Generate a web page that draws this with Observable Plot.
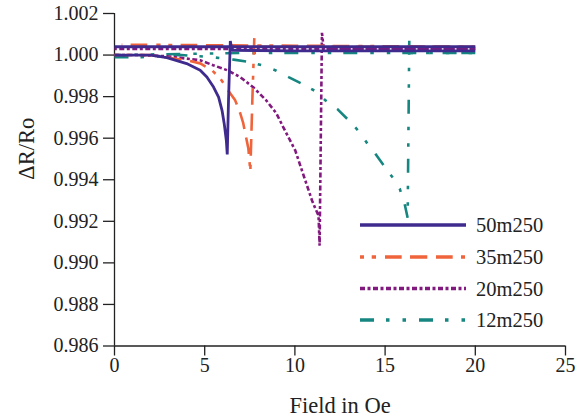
<!DOCTYPE html>
<html><head><meta charset="utf-8">
<script src="https://cdn.jsdelivr.net/npm/d3@7"></script>
<script src="https://cdn.jsdelivr.net/npm/@observablehq/plot@0.6"></script>
<style>
body{margin:0;background:#fff;}
#wrap{position:relative;width:579px;height:420px;overflow:hidden;}
#wrap svg{display:block;}
#legend{position:absolute;left:0;top:0;}
</style></head><body><div id="wrap"></div>
<script>
// ---- data ----
const seriesNames = ["50m250", "35m250", "20m250", "12m250"];
const seriesColors = ["#3f2b8e", "#f0643c", "#82197f", "#168680"];
const xTicks = [0, 5, 10, 15, 20, 25];
const yTicks = [0.986, 0.988, 0.990, 0.992, 0.994, 0.996, 0.998, 1.000, 1.002];
const xTitle = "Field in Oe";
const yTitle = "\u0394R/Ro";

// 50m250 : sweep up (with dip) and sweep back
const up50X = [0, 2.0, 2.9, 4.0, 4.75, 5.12, 5.49, 5.77, 5.96, 6.08, 6.20, 6.25, 6.32, 6.42, 6.51, 10, 15, 20];
const up50Y = [1.0000, 1.0000, 0.99988, 0.99959, 0.99927, 0.99894, 0.99846, 0.99798, 0.99734, 0.99671, 0.99589, 0.99522, 0.99782, 1.00068, 1.00023, 1.0002, 1.0002, 1.0002];
const back50X = [20, 10, 0];
const back50Y = [1.0004, 1.0004, 1.0004];

// 35m250
const up35X = [0, 2.0, 2.9, 4.03, 4.75, 5.4, 5.86, 6.3, 6.69, 6.97, 7.14, 7.25, 7.42, 7.53, 7.64, 7.75, 7.86, 14, 20];
const up35Y = [1.0000, 1.0000, 0.99988, 0.99975, 0.9996, 0.99927, 0.99888, 0.9983, 0.99782, 0.9972, 0.99671, 0.99623, 0.99551, 0.9944, 0.9978, 1.00083, 1.0004, 1.0004, 1.0004];
const back35X = [20, 10, 0.4];
const back35Y = [1.0004, 1.00045, 1.0005];

// 20m250
const up20X = [0, 1.5, 2.92, 4.75, 5.47, 6.25, 6.97, 7.69, 8.41, 8.97, 9.36, 10.02, 10.52, 10.95, 11.13, 11.31, 11.37, 11.50, 11.6, 15, 20];
const up20Y = [1.0000, 1.0000, 0.99994, 0.99975, 0.99951, 0.99927, 0.99894, 0.99845, 0.99782, 0.9972, 0.99652, 0.99541, 0.99411, 0.993, 0.99262, 0.99228, 0.99083, 1.00107, 1.0003, 1.0003, 1.0003];
const back20X = [20, 10, 0];
const back20Y = [1.0003, 1.0003, 1.0003];

// 12m250
const up12X = [0, 1.5, 3.7, 5.4, 6.6, 7.49, 8.36, 8.91, 9.65, 10.45, 11.23, 11.69, 12.37, 12.98, 13.59, 13.96, 14.46, 14.96, 15.47, 15.81, 16.07, 16.25, 16.34, 16.42, 20];
const up12Y = [0.9999, 0.9999, 1.0000, 0.9999, 0.99978, 0.99967, 0.99946, 0.99927, 0.99894, 0.99859, 0.99822, 0.99782, 0.99739, 0.99686, 0.99629, 0.99581, 0.99525, 0.99464, 0.99405, 0.99357, 0.99289, 0.99217, 1.00071, 1.0001, 1.0001];
const back12X = [20, 7, 0];
const back12Y = [1.0001, 1.0001, 1.0000];

// ---- build table ----
function branch(name, part, xs, ys) {
  return xs.map((x, i) => ({series: name, part, x, y: ys[i]}));
}
const rows = [
  ...branch("50m250", "up", up50X, up50Y), ...branch("50m250", "back", back50X, back50Y),
  ...branch("35m250", "up", up35X, up35Y), ...branch("35m250", "back", back35X, back35Y),
  ...branch("20m250", "up", up20X, up20Y), ...branch("20m250", "back", back20X, back20Y),
  ...branch("12m250", "up", up12X, up12Y), ...branch("12m250", "back", back12X, back12Y)
];
const dashes = {
  "50m250": null,
  "35m250": "4,7.7,4.3,9,16.7,8.3,17.3,8.7,16.7,8.3",
  "20m250": "5,2.5,3,2.5",
  "12m250": "14,12,3.5,13,3.5,13"
};
const widths = {"50m250": 2.8, "35m250": 2.6, "20m250": 2.6, "12m250": 2.6};
const drawOrder = ["12m250", "20m250", "35m250", "50m250"];
const colorOf = s => seriesColors[seriesNames.indexOf(s)];

const lineMarks = drawOrder.map(s => Plot.line(rows.filter(d => d.series === s), {
  x: "x", y: "y", z: "part", stroke: colorOf(s), strokeWidth: widths[s],
  strokeDasharray: dashes[s] || undefined, strokeLinecap: "butt", strokeLinejoin: "miter", curve: "linear"
}));

const chart = Plot.plot({
  width: 579, height: 420,
  marginLeft: 114, marginRight: 14, marginTop: 13, marginBottom: 74.5,
  style: {fontFamily: "'Liberation Serif', 'Times New Roman', serif", fontSize: "20px", color: "#222", background: "#fff"},
  x: {domain: [0, 25]},
  y: {domain: [0.986, 1.002]},
  marks: [
    Plot.axisX({ticks: xTicks, tickSize: 10, tickPadding: 2, tickFormat: d => String(d), label: null, stroke: "#222", strokeWidth: 1.3}),
    Plot.axisY({ticks: yTicks, tickSize: 11, tickPadding: 5, tickFormat: d3.format(".3f"), label: null, stroke: "#222", strokeWidth: 1.3}),
    Plot.ruleX([0], {stroke: "#222", strokeWidth: 1.3}),
    Plot.ruleY([0.986], {stroke: "#222", strokeWidth: 1.3}),
    ...lineMarks,
    Plot.text([xTitle], {frameAnchor: "bottom", dy: 60, lineAnchor: "middle", fontSize: 22.5, fill: "#222"}),
    Plot.text([yTitle], {frameAnchor: "left", dx: -88, rotate: -90, lineAnchor: "middle", fontSize: 22.5, fill: "#222"})
  ]
});
const wrap = document.getElementById("wrap");
wrap.appendChild(chart);

// ---- legend overlay ----
const lg = d3.select(wrap).append("svg").attr("id", "legend").attr("width", 579).attr("height", 420)
  .style("font-family", "'Liberation Serif', 'Times New Roman', serif").style("font-size", "20.5px");
const legendY = [225, 257, 288.5, 320];
seriesNames.forEach((s, i) => {
  lg.append("line").attr("x1", 360).attr("x2", 466).attr("y1", legendY[i]).attr("y2", legendY[i])
    .attr("stroke", seriesColors[i]).attr("stroke-width", 3.3)
    .attr("stroke-dasharray", dashes[s] || null);
  lg.append("text").attr("x", 476).attr("y", legendY[i]).attr("dy", "0.35em").attr("fill", "#222").text(s);
});
</script></body></html>
